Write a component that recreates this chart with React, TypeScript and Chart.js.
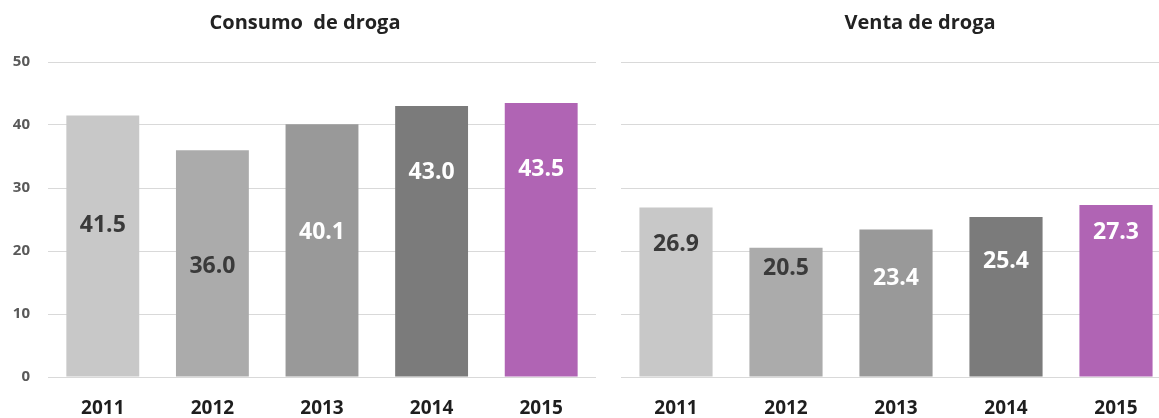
import React, { useEffect, useRef } from "react";
import { Chart, registerables } from "chart.js";

Chart.register(...registerables);

const categories = ["2011", "2012", "2013", "2014", "2015"];
const consumoValues = [41.5, 36.0, 40.1, 43.0, 43.5];
const ventaValues = [26.9, 20.5, 23.4, 25.4, 27.3];
// Height (in data units) where each value label sits
const consumoLabelAt = [24.0, 17.6, 23.0, 32.5, 33.0];
const ventaLabelAt = [21.0, 17.3, 15.6, 18.3, 23.0];
const yTicks = [0, 10, 20, 30, 40, 50];

const barColors = ["#C8C8C8", "#ABABAB", "#999999", "#7B7B7B", "#B064B4"];
const labelColors = ["#3A3A3A", "#3A3A3A", "#FFFFFF", "#FFFFFF", "#FFFFFF"];
const FONT = "'Open Sans', 'Noto Sans', sans-serif";

const valueLabelPlugin = {
  id: "valueLabels",
  afterDatasetsDraw(chart: any, _args: any, opts: any) {
    const { ctx } = chart;
    const meta = chart.getDatasetMeta(0);
    const yScale = chart.scales.y;
    const ds = chart.data.datasets[0];
    ctx.save();
    ctx.font = `bold 23px ${FONT}`;
    ctx.textAlign = "center";
    ctx.textBaseline = "middle";
    meta.data.forEach((bar: any, i: number) => {
      ctx.fillStyle = labelColors[i];
      const y = yScale.getPixelForValue(opts.labelAt[i]);
      ctx.fillText((ds.data[i] as number).toFixed(1), bar.x, y);
    });
    ctx.restore();
  },
};

const panelTitlePlugin = {
  id: "panelTitle",
  afterDraw(chart: any, _args: any, opts: any) {
    const { ctx } = chart;
    ctx.save();
    ctx.font = `bold 20px ${FONT}`;
    ctx.fillStyle = "#222222";
    ctx.textAlign = "center";
    ctx.textBaseline = "middle";
    ctx.fillText(opts.text, opts.x, opts.y);
    ctx.restore();
  },
};

function makeConfig(
  values: number[],
  labelAt: number[],
  title: string,
  titleX: number,
  showY: boolean,
  padding: { left: number; right: number }
): any {
  return {
    type: "bar",
    data: {
      labels: categories,
      datasets: [
        {
          data: values,
          backgroundColor: barColors,
          borderWidth: 0,
          categoryPercentage: 1,
          barPercentage: 0.665,
        },
      ],
    },
    options: {
      responsive: false,
      animation: false,
      devicePixelRatio: 1,
      layout: { padding: { top: 62, bottom: 0, left: padding.left, right: padding.right } },
      plugins: {
        legend: { display: false },
        tooltip: { enabled: false },
        title: { display: false },
        valueLabels: { labelAt },
        panelTitle: { text: title, x: titleX, y: 23 },
      },
      scales: {
        x: {
          grid: { display: false, drawTicks: false },
          border: { display: false },
          afterFit: (scale: any) => {
            scale.height = 41;
          },
          ticks: {
            color: "#1E1E1E",
            font: { family: FONT, size: 19, weight: "bold", lineHeight: 1 },
            padding: 22,
            maxRotation: 0,
          },
        },
        y: {
          min: 0,
          max: 50,
          afterBuildTicks: (scale: any) => {
            scale.ticks = yTicks.map((v) => ({ value: v }));
          },
          afterFit: (scale: any) => {
            scale.width = showY ? 48 : 0;
          },
          grid: { color: "#D9D9D9", lineWidth: 1, drawTicks: false },
          border: { display: false },
          ticks: {
            display: showY,
            color: "#595959",
            font: { family: FONT, size: 15, weight: "bold" },
            padding: 18,
          },
        },
      },
    },
    plugins: [valueLabelPlugin, panelTitlePlugin],
  };
}

function Panel(props: {
  left: number;
  width: number;
  values: number[];
  labelAt: number[];
  title: string;
  titleX: number;
  showY: boolean;
  padding: { left: number; right: number };
}) {
  const ref = useRef<HTMLCanvasElement | null>(null);
  useEffect(() => {
    if (!ref.current) return;
    const chart = new Chart(
      ref.current,
      makeConfig(props.values, props.labelAt, props.title, props.titleX, props.showY, props.padding)
    );
    return () => chart.destroy();
  }, []);
  return (
    <canvas
      ref={ref}
      width={props.width}
      height={418}
      style={{ position: "absolute", left: props.left, top: 0, width: props.width, height: 418 }}
    />
  );
}

export default function App() {
  return (
    <div
      style={{
        position: "fixed",
        left: 0,
        top: 0,
        width: 1159,
        height: 418,
        overflow: "hidden",
        background: "#FFFFFF",
      }}
    >
      <Panel
        left={0}
        width={610}
        values={consumoValues}
        labelAt={consumoLabelAt}
        title="Consumo  de droga"
        titleX={305}
        showY={true}
        padding={{ left: 0, right: 14 }}
      />
      <Panel
        left={600}
        width={620}
        values={ventaValues}
        labelAt={ventaLabelAt}
        title="Venta de droga"
        titleX={320}
        showY={false}
        padding={{ left: 21, right: 49 }}
      />
    </div>
  );
}
